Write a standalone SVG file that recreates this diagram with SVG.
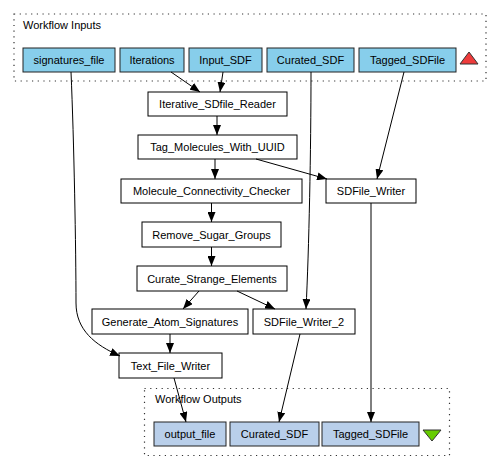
<svg xmlns="http://www.w3.org/2000/svg" width="500" height="470" viewBox="0 0 500 470">
<defs>
<marker id="ah" viewBox="0 0 10 8" refX="10" refY="4" markerWidth="10" markerHeight="8" markerUnits="userSpaceOnUse" orient="auto">
<path d="M0,0 L10,4 L0,8 Z" fill="#000"/>
</marker>
</defs>
<style>
text{font-family:"Liberation Sans",Arial,Helvetica,sans-serif;font-size:11px;fill:#000}
.n text{text-anchor:middle}
.proc{fill:#fff;stroke:#000;stroke-width:1}
.in{fill:#87ceeb;stroke:#222;stroke-width:1}
.out{fill:#b9cfea;stroke:#222;stroke-width:1}
.cl{fill:none;stroke:#333;stroke-width:1.2;stroke-dasharray:1.2,4.5}
.e path{fill:none;stroke:#000;stroke-width:1;marker-end:url(#ah)}
</style>
<rect width="500" height="470" fill="#fff"/>
<g id="workflow_inputs">
<rect class="cl" x="14" y="14" width="472" height="67"/>
<text x="23" y="29">Workflow Inputs</text>
</g>
<g id="workflow_outputs">
<rect class="cl" x="144.5" y="388.5" width="305" height="67"/>
<text x="155" y="403">Workflow Outputs</text>
</g>
<g class="n" id="in_signatures_file"><rect class="in" x="23" y="48" width="92" height="24"/><text x="69" y="64">signatures_file</text></g>
<g class="n" id="in_Iterations"><rect class="in" x="120" y="48" width="64" height="24"/><text x="152" y="64">Iterations</text></g>
<g class="n" id="in_Input_SDF"><rect class="in" x="189" y="48" width="73" height="24"/><text x="225.5" y="64">Input_SDF</text></g>
<g class="n" id="in_Curated_SDF"><rect class="in" x="267" y="48" width="87" height="24"/><text x="310.5" y="64">Curated_SDF</text></g>
<g class="n" id="in_Tagged_SDFile"><rect class="in" x="359" y="48" width="97" height="24"/><text x="407.5" y="64">Tagged_SDFile</text></g>
<g id="in_triangle"><path d="M460,64 L469,52 L478,64 Z" fill="#ee3b3b" stroke="#333" stroke-width="1"/></g>
<g class="n" id="Iterative_SDfile_Reader"><rect class="proc" x="148" y="92" width="139" height="24"/><text x="217.5" y="108">Iterative_SDfile_Reader</text></g>
<g class="n" id="Tag_Molecules_With_UUID"><rect class="proc" x="138" y="135" width="159" height="24"/><text x="217.5" y="151">Tag_Molecules_With_UUID</text></g>
<g class="n" id="Molecule_Connectivity_Checker"><rect class="proc" x="121" y="179" width="181" height="24"/><text x="211.5" y="195">Molecule_Connectivity_Checker</text></g>
<g class="n" id="SDFile_Writer"><rect class="proc" x="326" y="179" width="90" height="24"/><text x="371" y="195">SDFile_Writer</text></g>
<g class="n" id="Remove_Sugar_Groups"><rect class="proc" x="142" y="222" width="139" height="25"/><text x="211.5" y="238.5">Remove_Sugar_Groups</text></g>
<g class="n" id="Curate_Strange_Elements"><rect class="proc" x="137" y="266" width="150" height="25"/><text x="212" y="282.5">Curate_Strange_Elements</text></g>
<g class="n" id="Generate_Atom_Signatures"><rect class="proc" x="92" y="309" width="156" height="25"/><text x="170" y="325.5">Generate_Atom_Signatures</text></g>
<g class="n" id="SDFile_Writer_2"><rect class="proc" x="253" y="309" width="102" height="25"/><text x="304" y="325.5">SDFile_Writer_2</text></g>
<g class="n" id="Text_File_Writer"><rect class="proc" x="119" y="353" width="103" height="25"/><text x="170.5" y="369.5">Text_File_Writer</text></g>
<g class="n" id="out_output_file"><rect class="out" x="154" y="422" width="72" height="24"/><text x="190" y="438">output_file</text></g>
<g class="n" id="out_Curated_SDF"><rect class="out" x="230" y="422" width="89" height="24"/><text x="274.5" y="438">Curated_SDF</text></g>
<g class="n" id="out_Tagged_SDFile"><rect class="out" x="322" y="422" width="97" height="24"/><text x="370.5" y="438">Tagged_SDFile</text></g>
<g id="out_triangle"><path d="M423,430 L441,430 L432,441 Z" fill="#66cc00" stroke="#333" stroke-width="1"/></g>
<g class="e" id="connectors">
<path d="M71,72 C74,140 76,250 76,303 C76,330 95,345 120,356"/>
<path d="M171,72 L200,92"/>
<path d="M223,72 L220,92"/>
<path d="M217,116 L217,135"/>
<path d="M215,159 L215,179"/>
<path d="M256,159 L327,179"/>
<path d="M311,72 C311,150 309,250 306,309"/>
<path d="M404,72 L377,179"/>
<path d="M371,203 L371,422"/>
<path d="M211.5,203 L211.5,222"/>
<path d="M211.5,247 L211.5,266"/>
<path d="M199,291 L183,309"/>
<path d="M237,291 L275,309"/>
<path d="M170,334 L170,353"/>
<path d="M300,334 L279,422"/>
<path d="M174,378 L186,422"/>
</g>
</svg>
